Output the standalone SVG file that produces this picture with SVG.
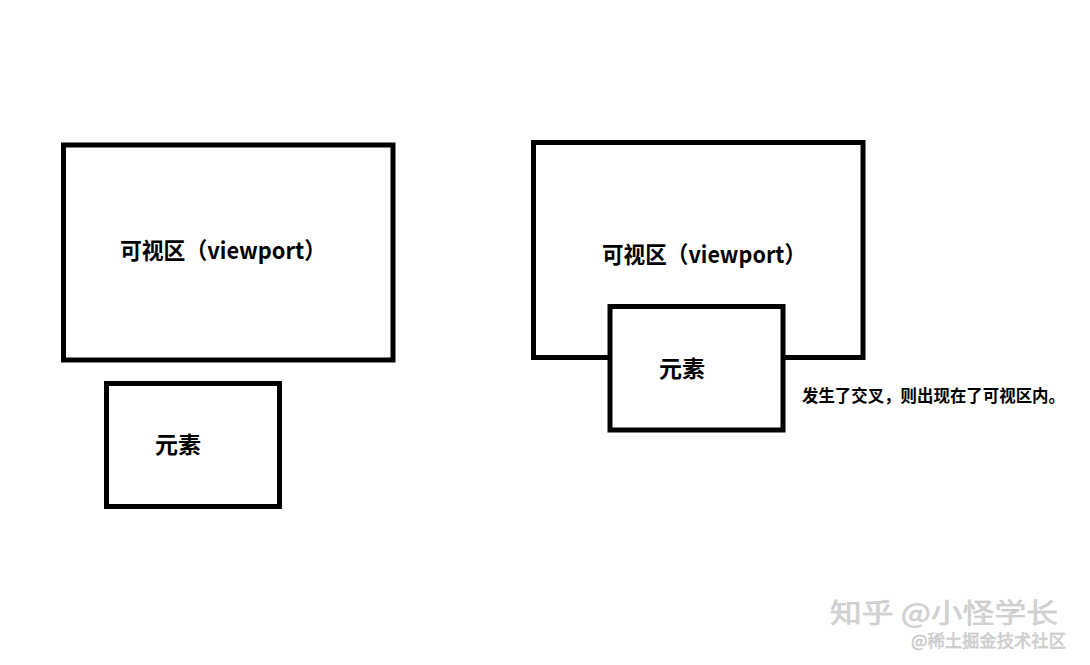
<svg xmlns="http://www.w3.org/2000/svg" width="1090" height="665" viewBox="0 0 1090 665">
<style>
.box{fill:#fff;stroke:#000;stroke-width:5}
.lbl{font-family:"Noto Sans CJK SC","Noto Sans",sans-serif;font-weight:bold;fill:#000}
.wm{font-family:"Noto Sans CJK SC",sans-serif;fill:#d4d4d4;stroke:#bdbdbd;stroke-width:0.4}
</style>
<rect width="1090" height="665" fill="#fff"/>
<g id="viewport-left">
<rect class="box" x="63.5" y="145" width="329.5" height="215"/>
<text class="lbl" x="120" y="259" font-size="23" textLength="206" lengthAdjust="spacingAndGlyphs">可视区（viewport）</text>
</g>
<g id="element-left">
<rect class="box" x="106.5" y="383.5" width="173" height="123"/>
<text class="lbl" x="155" y="453" font-size="23">元素</text>
</g>
<g id="viewport-right">
<rect class="box" x="533.5" y="142.5" width="329.5" height="215"/>
<text class="lbl" x="602" y="263" font-size="23" textLength="204" lengthAdjust="spacingAndGlyphs">可视区（viewport）</text>
</g>
<g id="element-right">
<rect class="box" x="610" y="306.5" width="173" height="123.5"/>
<text class="lbl" x="659" y="377" font-size="23">元素</text>
</g>
<g id="note">
<text class="lbl" x="802" y="402" font-size="16.6" textLength="263" lengthAdjust="spacingAndGlyphs">发生了交叉，则出现在了可视区内。</text>
</g>
<g id="connectors"/>
<g id="watermark">
<text class="wm" x="830" y="623" font-size="27" textLength="228" lengthAdjust="spacingAndGlyphs">知乎 @小怪学长</text>
<text class="wm" x="911" y="647" font-size="16.5" textLength="155" lengthAdjust="spacingAndGlyphs">@稀土掘金技术社区</text>
</g>
</svg>
